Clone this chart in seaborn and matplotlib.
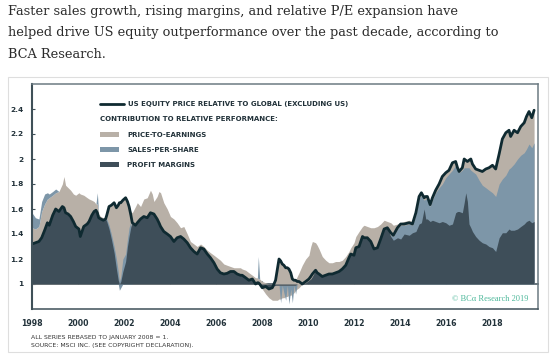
import matplotlib
matplotlib.use("Agg")
import numpy as np
import pandas as pd
import matplotlib.pyplot as plt
import seaborn as sns
from matplotlib.lines import Line2D
from matplotlib.patches import Patch, Rectangle

# values (rebased, Jan 2008 = 1)
years = [
    # 1998 - 2001
    1998.00, 1998.15, 1998.30, 1998.42, 1998.55, 1998.67, 1998.75, 1998.90, 1999.03, 1999.17,
    1999.32, 1999.39, 1999.46, 1999.57, 1999.68, 1999.80, 1999.90, 2000.04, 2000.10, 2000.25,
    2000.40, 2000.48, 2000.60, 2000.70, 2000.78, 2000.84, 2000.90, 2000.99, 2001.10, 2001.20,
    # 2001 - 2002 dip
    2001.25, 2001.35, 2001.45, 2001.57, 2001.67, 2001.75, 2001.80, 2001.86, 2001.95, 2002.07,
    2002.15, 2002.22, 2002.30, 2002.36,
    # 2002 - 2007
    2002.50, 2002.58, 2002.72, 2002.86, 2003.01, 2003.15, 2003.23, 2003.30, 2003.44, 2003.52,
    2003.59, 2003.73, 2003.88, 2004.02, 2004.17, 2004.31, 2004.46, 2004.60, 2004.75, 2004.89,
    2005.04, 2005.18, 2005.33, 2005.47, 2005.62, 2005.76, 2005.91, 2006.05, 2006.19, 2006.34,
    2006.48, 2006.63, 2006.78, 2006.92, 2007.06, 2007.14, 2007.29, 2007.43, 2007.58, 2007.72,
    2007.80, 2007.84, 2007.90,
    # 2008 - 2010
    2008.01, 2008.16, 2008.30, 2008.45, 2008.59, 2008.67, 2008.74, 2008.81, 2008.88, 2008.95,
    2009.03, 2009.10, 2009.17, 2009.25, 2009.32, 2009.39, 2009.46, 2009.53, 2009.61, 2009.75,
    2009.90, 2010.04, 2010.12, 2010.19,
    # 2010 - 2013
    2010.33, 2010.40, 2010.48, 2010.62, 2010.77, 2010.91, 2011.06, 2011.20, 2011.35, 2011.49,
    2011.64, 2011.78, 2011.86, 2012.00, 2012.08, 2012.22, 2012.37, 2012.44, 2012.58, 2012.73,
    2012.87, 2013.02, 2013.16, 2013.31, 2013.45,
    # 2013 - 2019
    2013.60, 2013.71, 2013.89, 2014.03, 2014.18, 2014.40, 2014.54, 2014.69, 2014.83, 2014.93,
    2015.05, 2015.12, 2015.19, 2015.31, 2015.41, 2015.55, 2015.70, 2015.84, 2015.99, 2016.13,
    2016.28, 2016.42, 2016.50, 2016.57, 2016.71, 2016.79, 2016.86, 2016.93, 2017.00, 2017.08,
    2017.15, 2017.29, 2017.44, 2017.58, 2017.73, 2017.87, 2018.02, 2018.16, 2018.31, 2018.45,
    2018.60, 2018.74, 2018.81, 2018.96, 2019.11, 2019.25, 2019.40, 2019.50, 2019.61, 2019.73,
    2019.83,
]

# US equity price relative to global ex US
us_relative = [
    1.32, 1.33, 1.34, 1.37, 1.43, 1.49, 1.47, 1.55, 1.60, 1.58,
    1.62, 1.61, 1.57, 1.56, 1.54, 1.50, 1.46, 1.44, 1.38, 1.46,
    1.48, 1.50, 1.55, 1.58, 1.59, 1.57, 1.53, 1.52, 1.51, 1.52,
    1.55, 1.62, 1.63, 1.65, 1.61, 1.63, 1.65, 1.65, 1.67, 1.69,
    1.66, 1.62, 1.55, 1.49,
    1.47, 1.49, 1.52, 1.54, 1.53, 1.57, 1.565, 1.56, 1.52, 1.49,
    1.46, 1.42, 1.40, 1.38, 1.34, 1.37, 1.38, 1.36, 1.33, 1.29,
    1.26, 1.24, 1.29, 1.28, 1.24, 1.21, 1.17, 1.12, 1.09, 1.08,
    1.085, 1.10, 1.10, 1.08, 1.07, 1.07, 1.05, 1.03, 1.04, 1.00,
    1.01, 1.01, 1.00,
    0.97, 0.98, 0.96, 0.97, 1.03, 1.12, 1.20, 1.185, 1.16, 1.15,
    1.13, 1.13, 1.12, 1.09, 1.04, 1.03, 1.03, 1.02, 1.02, 1.00,
    1.02, 1.04, 1.06, 1.08,
    1.11, 1.09, 1.08, 1.06, 1.07, 1.08, 1.08, 1.09, 1.10, 1.12,
    1.15, 1.21, 1.24, 1.23, 1.29, 1.30, 1.38, 1.37, 1.37, 1.34,
    1.28, 1.29, 1.36, 1.44, 1.45,
    1.41, 1.39, 1.45, 1.48, 1.48, 1.49, 1.48, 1.57, 1.70, 1.73,
    1.69, 1.70, 1.70, 1.635, 1.69, 1.75, 1.80, 1.86, 1.89, 1.91,
    1.97, 1.98, 1.93, 1.90, 1.93, 2.00, 1.99, 1.98, 1.99, 2.00,
    1.96, 1.92, 1.91, 1.90, 1.92, 1.93, 1.95, 1.92, 2.04, 2.16,
    2.21, 2.23, 2.18, 2.23, 2.21, 2.26, 2.29, 2.34, 2.38, 2.33,
    2.39,
]

# top of the profit margins area
margins_top = [
    1.32, 1.33, 1.34, 1.37, 1.43, 1.49, 1.47, 1.55, 1.60, 1.58,
    1.62, 1.61, 1.57, 1.56, 1.54, 1.50, 1.46, 1.44, 1.38, 1.46,
    1.48, 1.50, 1.55, 1.58, 1.59, 1.57, 1.53, 1.52, 1.51, 1.52,
    1.50, 1.44, 1.36, 1.25, 1.12, 1.03, 1.00, 1.02, 1.10, 1.18,
    1.30, 1.38, 1.46, 1.49,
    1.47, 1.49, 1.52, 1.54, 1.53, 1.57, 1.565, 1.56, 1.52, 1.49,
    1.46, 1.42, 1.40, 1.38, 1.34, 1.37, 1.38, 1.36, 1.33, 1.29,
    1.26, 1.24, 1.29, 1.28, 1.24, 1.21, 1.17, 1.12, 1.09, 1.08,
    1.085, 1.10, 1.10, 1.08, 1.07, 1.07, 1.05, 1.03, 1.04, 1.00,
    1.01, 1.01, 1.00,
    0.97, 0.98, 0.97, 0.98, 0.99, 0.99, 0.99, 0.99, 0.99, 0.99,
    0.99, 0.99, 0.99, 0.99, 0.99, 0.99, 0.99, 1.00, 1.00, 1.00,
    1.01, 1.03, 1.04, 1.06,
    1.11, 1.09, 1.08, 1.06, 1.07, 1.08, 1.08, 1.09, 1.10, 1.12,
    1.15, 1.21, 1.24, 1.23, 1.29, 1.30, 1.38, 1.37, 1.37, 1.34,
    1.28, 1.29, 1.36, 1.44, 1.45,
    1.38, 1.35, 1.37, 1.36, 1.40, 1.39, 1.41, 1.42, 1.48, 1.49,
    1.60, 1.52, 1.52, 1.50, 1.51, 1.50, 1.49, 1.50, 1.49, 1.47,
    1.48, 1.57, 1.58, 1.58, 1.57, 1.65, 1.73, 1.66, 1.48, 1.45,
    1.42, 1.38, 1.35, 1.33, 1.32, 1.30, 1.29, 1.26, 1.37, 1.41,
    1.41, 1.44, 1.43, 1.43, 1.44, 1.46, 1.48, 1.50, 1.51, 1.49,
    1.50,
]

# price-to-earnings band (low / high edge)
pe_low = [1.0] * 30 + [1.0] * 14 + [1.0] * 43 + [
    0.96, 0.92, 0.89, 0.87, 0.87, 0.87, 0.88, 0.88, 0.89, 0.89,
    0.90, 0.90, 0.91, 0.91, 0.92, 0.93, 0.95, 0.96, 0.97, 1.00,
    1.00, 1.00, 1.00, 1.00,
] + [1.0] * 25 + [1.0] * 51

pe_high = [
    1.45, 1.44, 1.46, 1.58, 1.64, 1.68, 1.69, 1.71, 1.73, 1.74,
    1.80, 1.86, 1.79, 1.77, 1.75, 1.72, 1.71, 1.73, 1.72, 1.71,
    1.69, 1.68, 1.67, 1.66, 1.64, 1.64, 1.56, 1.54, 1.53, 1.53,
    1.56, 1.63, 1.64, 1.66, 1.62, 1.64, 1.66, 1.67, 1.69, 1.70,
    1.67, 1.63, 1.58, 1.57,
    1.62, 1.65, 1.62, 1.68, 1.69, 1.75, 1.72, 1.66, 1.70, 1.74,
    1.73, 1.65, 1.60, 1.54, 1.52, 1.49, 1.45, 1.46, 1.40, 1.34,
    1.32, 1.30, 1.32, 1.30, 1.27, 1.25, 1.23, 1.21, 1.19, 1.16,
    1.15, 1.14, 1.13, 1.13, 1.13, 1.12, 1.11, 1.09, 1.07, 1.05,
    1.05, 1.04, 1.04,
    1.02, 1.01, 1.00, 1.00, 1.03, 1.12, 1.20, 1.185, 1.16, 1.15,
    1.13, 1.13, 1.12, 1.09, 1.04, 1.03, 1.03, 1.06, 1.09, 1.15,
    1.20, 1.23, 1.30, 1.34,
    1.33, 1.31, 1.28, 1.22, 1.19, 1.17, 1.17, 1.18, 1.18, 1.19,
    1.22, 1.26, 1.29, 1.33, 1.38, 1.42, 1.46, 1.47, 1.46, 1.45,
    1.45, 1.46, 1.48, 1.51, 1.50,
    1.49, 1.47, 1.48, 1.49, 1.50, 1.51, 1.50, 1.57, 1.70, 1.73,
    1.69, 1.70, 1.70, 1.64, 1.69, 1.75, 1.80, 1.86, 1.89, 1.91,
    1.97, 1.98, 1.93, 1.90, 1.93, 2.00, 1.99, 1.98, 1.99, 2.00,
    1.96, 1.92, 1.91, 1.90, 1.92, 1.93, 1.95, 1.92, 2.04, 2.16,
    2.21, 2.23, 2.18, 2.23, 2.21, 2.26, 2.29, 2.34, 2.38, 2.33,
    2.39,
]

# sales-per-share band (low / high edge)
sales_low = [
    1.45, 1.44, 1.46, 1.58, 1.64, 1.68, 1.69, 1.71, 1.73, 1.74,
    1.0, 1.0, 1.0, 1.0, 1.0, 1.0, 1.0, 1.0, 1.0, 1.0,
    1.0, 1.0, 1.0, 1.0, 1.64, 1.64, 1.56, 1.0, 1.0, 1.52,
    1.0, 1.0, 1.0, 1.0, 1.0, 1.0, 0.95, 0.97, 1.0, 1.0,
    1.0, 1.0, 1.0, 1.0,
] + [1.0] * 40 + [1.05, 1.04, 1.04] + [
    1.0, 1.0, 1.0, 1.0, 1.0, 1.0, 0.99, 0.85, 0.99, 0.93,
    0.87, 0.99, 0.84, 0.96, 0.85, 0.99, 0.92, 1.0, 1.0, 1.0,
    1.0, 1.0, 1.0, 1.0,
] + [1.0] * 25 + [1.0] * 51

sales_high = [
    1.57, 1.53, 1.52, 1.66, 1.72, 1.73, 1.72, 1.74, 1.76, 1.74,
    1.0, 1.0, 1.0, 1.0, 1.0, 1.0, 1.0, 1.0, 1.0, 1.0,
    1.0, 1.0, 1.0, 1.0, 1.64, 1.73, 1.56, 1.0, 1.0, 1.52,
    1.52, 1.47, 1.40, 1.30, 1.20, 1.10, 1.02, 1.06, 1.20, 1.24,
    1.36, 1.45, 1.50, 1.00,
] + [1.0] * 40 + [1.05, 1.22, 1.04] + [
    1.0, 1.0, 1.0, 1.0, 1.0, 1.0, 0.99, 0.99, 0.99, 0.99,
    0.99, 0.99, 0.99, 0.99, 0.99, 0.99, 0.99, 1.0, 1.0, 1.0,
    1.0, 1.0, 1.0, 1.0,
] + [1.0] * 25 + [
    1.40, 1.38, 1.44, 1.47, 1.47, 1.48, 1.47, 1.55, 1.68, 1.71,
    1.67, 1.68, 1.68, 1.62, 1.67, 1.73, 1.77, 1.80, 1.85, 1.88,
    1.91, 1.95, 1.92, 1.89, 1.91, 1.93, 1.93, 1.93, 1.93, 1.91,
    1.90, 1.88, 1.83, 1.79, 1.77, 1.75, 1.73, 1.70, 1.80, 1.84,
    1.87, 1.92, 1.93, 1.96, 2.00, 2.03, 2.05, 2.08, 2.12, 2.09,
    2.13,
]

x_ticks = list(range(1998, 2020, 2))
y_ticks = [1.0, 1.2, 1.4, 1.6, 1.8, 2.0, 2.2, 2.4]
y_labels = ["1", "1.2", "1.4", "1.6", "1.8", "2", "2.2", "2.4"]

title_lines = [
    "Faster sales growth, rising margins, and relative P/E expansion have",
    "helped drive US equity outperformance over the past decade, according to",
    "BCA Research.",
]

df = pd.DataFrame({
    "year": years, "us_rel": us_relative, "margins": margins_top,
    "pe_low": pe_low, "pe_high": pe_high,
    "sales_low": sales_low, "sales_high": sales_high,
})

PE_COL = "#b8b0a7"
SPS_COL = "#7d96a8"
PM_COL = "#3e4e59"
LINE_COL = "#0f2a31"
FRAME = "#3f5058"
TXT = "#22323a"

sns.set_theme(style="white")
plt.rcParams["font.family"] = ["DejaVu Sans"]

fig = plt.figure(figsize=(5.51, 3.57), dpi=100)
ax = fig.add_axes([32 / 551, 1 - 309 / 357, 506 / 551, 225 / 357])

ax.fill_between(df["year"], df["pe_low"], df["pe_high"], color=PE_COL, lw=0)
ax.fill_between(df["year"], df["sales_low"], df["sales_high"], color=SPS_COL, lw=0)
ax.fill_between(df["year"], 1, df["margins"], color=PM_COL, lw=0)
sns.lineplot(data=df, x="year", y="us_rel", ax=ax, color=LINE_COL, lw=2.0, legend=False)

ax.set_xlim(1998, 2020)
ax.set_ylim(0.8, 2.6)
ax.set_xlabel("")
ax.set_ylabel("")
ax.set_yticks(y_ticks)
ax.set_yticklabels(y_labels)
ax.set_xticks(x_ticks)
ax.set_xticklabels([str(t) for t in x_ticks])
ax.tick_params(axis="y", left=True, direction="in", length=2, width=0.8, color=FRAME,
               pad=6, labelsize=5.3, labelcolor=TXT)
ax.tick_params(axis="x", bottom=False, length=0, pad=7, labelsize=5.6, labelcolor=TXT)
for lab in ax.get_xticklabels() + ax.get_yticklabels():
    lab.set_fontweight("bold")

for name, sp in ax.spines.items():
    sp.set_visible(True)
    sp.set_color(FRAME if name in ("left", "bottom") else "#6c7b83")
    sp.set_linewidth(1.5 if name == "left" else 1.1)

# baseline at 1 with small year ticks
base = ax.secondary_xaxis(1, transform=ax.transData)
base.set_xticks(x_ticks)
base.tick_params(axis="x", which="both", direction="out", length=2.2, width=0.8,
                 color=FRAME, labeltop=False, labelbottom=False)
for sp in base.spines.values():
    sp.set_color(FRAME)
    sp.set_linewidth(1.1)

# legend
line_handle = Line2D([], [], color=LINE_COL, lw=2.0)
leg1 = ax.legend([line_handle], ["US EQUITY PRICE RELATIVE TO GLOBAL (EXCLUDING US)"],
                 loc="upper left", bbox_to_anchor=(0.134, 0.924), frameon=False,
                 prop={"size": 5.0, "weight": "bold"}, labelcolor=TXT,
                 handlelength=3.5, handletextpad=0.5, borderpad=0, borderaxespad=0)
ax.add_artist(leg1)
patches = [Patch(color=PE_COL, lw=0), Patch(color=SPS_COL, lw=0), Patch(color=PM_COL, lw=0)]
leg2 = ax.legend(patches, ["PRICE-TO-EARNINGS", "SALES-PER-SHARE", "PROFIT MARGINS"],
                 title="CONTRIBUTION TO RELATIVE PERFORMANCE:",
                 title_fontproperties={"size": 5.0, "weight": "bold"}, alignment="left",
                 loc="upper left", bbox_to_anchor=(0.134, 0.857), frameon=False,
                 prop={"size": 5.0, "weight": "bold"}, labelcolor=TXT,
                 handlelength=2.8, handleheight=0.72, handletextpad=1.15,
                 labelspacing=1.35, borderpad=0, borderaxespad=0)
leg2.get_title().set_color(TXT)

ax.text(0.98, 0.045, "\u00a9 BC\u03b1 Research 2019", transform=ax.transAxes,
        ha="right", va="center", fontsize=6.0, color="#4db89a",
        family=["Liberation Serif", "DejaVu Serif"])

# card frame
fig.patches.append(Rectangle((8 / 551, 1 - 352 / 357), 540 / 551, 275 / 357,
                             transform=fig.transFigure, fill=False,
                             edgecolor="#dedede", lw=0.8))

for i, txt in enumerate(title_lines):
    fig.text(8 / 551, 1 - (14.5 + 21.8 * i) / 357, txt, ha="left", va="baseline",
             fontsize=9.3, color="#2b2b2b", family=["DejaVu Serif"])

fig.text(31 / 551, 1 - 337 / 357, "ALL SERIES REBASED TO JANUARY 2008 = 1.",
         fontsize=4.4, color="#333333", va="center")
fig.text(31 / 551, 1 - 345 / 357, "SOURCE: MSCI INC. (SEE COPYRIGHT DECLARATION).",
         fontsize=4.4, color="#333333", va="center")

fig.savefig("out.png", dpi=100, facecolor="white")
